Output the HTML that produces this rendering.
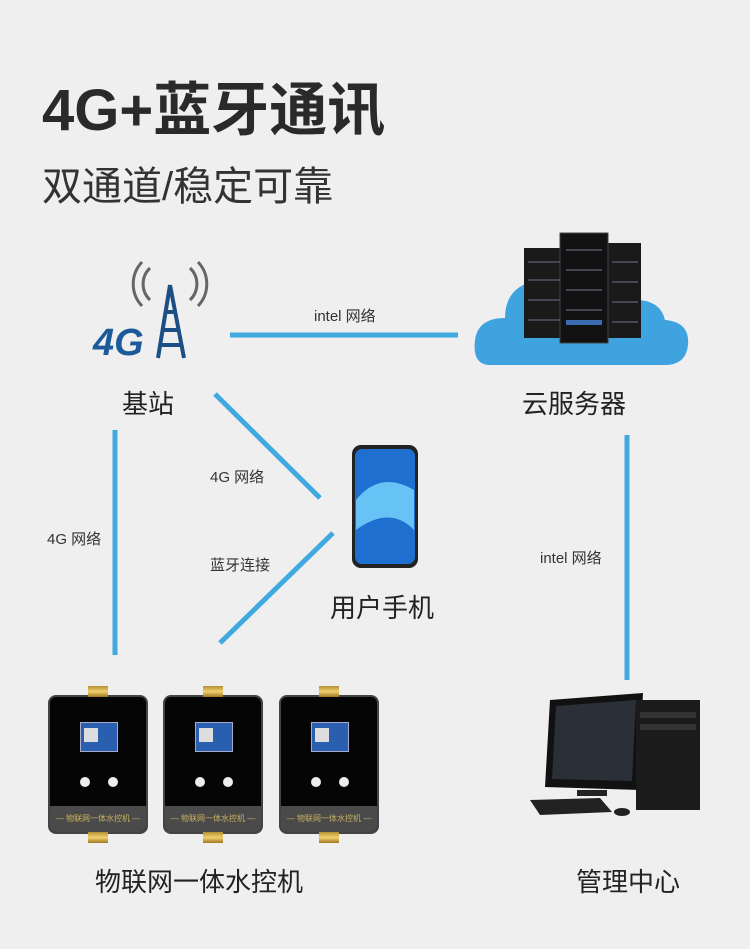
<!DOCTYPE html>
<html><head><meta charset="utf-8"><style>
body{margin:0;width:750px;height:949px;background:#efefef;position:relative;overflow:hidden;font-family:"Liberation Sans","Noto Sans CJK SC",sans-serif;color:#222}
.t{position:absolute;white-space:nowrap}
.s{font-size:15px;color:#333}
.l{font-size:26px;color:#222}
.dev{position:absolute;top:697px;width:96px;height:135px;background:#050505;border-radius:6px;box-shadow:0 0 0 2px #444}
.dev .sc{position:absolute;left:30px;top:25px;width:36px;height:28px;background:#2a5fb0;border:1px solid #aac}
.dev .qr{position:absolute;left:3px;top:5px;width:14px;height:14px;background:#ddd}
.dev .b{position:absolute;top:80px;width:10px;height:10px;border-radius:50%;background:#eee}
.dev .bar{position:absolute;left:0;right:0;bottom:0;height:26px;background:#4a4a4a;border-radius:0 0 6px 6px;color:#c9b060;font-size:8px;text-align:center;line-height:26px}
.dev .f{position:absolute;left:38px;width:20px;height:11px;background:linear-gradient(#b59030,#f0d070,#a07820)}
</style></head><body>
<div class="t" style="left:42px;top:76px;font-size:58px;line-height:70px;font-weight:bold;color:#2a2a2a">4G+蓝牙通讯</div>
<div class="t" style="left:42px;top:162px;font-size:40px;line-height:50px;color:#333">双通道/稳定可靠</div>

<svg width="750" height="949" style="position:absolute;left:0;top:0">
<g stroke="#3fa9e0" stroke-width="5">
<line x1="230" y1="335" x2="458" y2="335"/>
<line x1="215" y1="394" x2="320" y2="498"/>
<line x1="333" y1="533" x2="220" y2="643"/>
<line x1="115" y1="430" x2="115" y2="655"/>
<line x1="627" y1="435" x2="627" y2="680"/>
</g>
<g fill="none" stroke="#666" stroke-width="3">
<path d="M150 300 A22 22 0 0 1 150 268"/><path d="M142 306 A32 32 0 0 1 142 262"/>
<path d="M190 300 A22 22 0 0 0 190 268"/><path d="M198 306 A32 32 0 0 0 198 262"/>
</g>
<g stroke="#1d4f86" stroke-width="4" fill="none">
<path d="M170 285 L158 358 M170 285 L184 358 M162 330 L180 330 M165 312 L176 312 M160 345 L182 345"/>
</g>
<text x="93" y="355" font-size="38" font-weight="bold" font-style="italic" fill="#1d5a9c" font-family="Liberation Sans">4G</text>
<path d="M490 365 Q472 365 475 340 Q478 318 505 318 Q505 285 540 280 Q560 262 595 270 Q625 275 630 300 Q660 298 665 320 Q690 322 688 345 Q686 365 665 365 Z" fill="#3fa3e0"/>
<rect x="524" y="248" width="40" height="90" fill="#1a1a1a"/>
<rect x="608" y="243" width="33" height="95" fill="#1a1a1a"/>
<rect x="560" y="233" width="48" height="110" fill="#111" stroke="#444"/>
<g stroke="#556" stroke-width="1.5">
<line x1="528" y1="262" x2="560" y2="262"/><line x1="528" y1="280" x2="560" y2="280"/><line x1="528" y1="300" x2="560" y2="300"/><line x1="528" y1="320" x2="560" y2="320"/>
<line x1="566" y1="250" x2="602" y2="250"/><line x1="566" y1="270" x2="602" y2="270"/><line x1="566" y1="290" x2="602" y2="290"/><line x1="566" y1="310" x2="602" y2="310"/>
<line x1="612" y1="262" x2="638" y2="262"/><line x1="612" y1="282" x2="638" y2="282"/><line x1="612" y1="302" x2="638" y2="302"/><line x1="612" y1="322" x2="638" y2="322"/>
</g>
<rect x="566" y="320" width="36" height="5" fill="#3a6ab0"/>
<rect x="352" y="445" width="66" height="123" rx="9" fill="#222"/>
<rect x="355" y="449" width="60" height="115" rx="7" fill="#1f6fd0"/>
<path d="M356 500 Q380 470 414 490 L414 530 Q390 505 356 530Z" fill="#67c3f5"/>
<polygon points="550,700 643,693 638,790 545,787" fill="#111"/>
<polygon points="556,706 636,700 632,781 552,779" fill="#2b2f38"/>
<rect x="577" y="790" width="30" height="6" fill="#222"/>
<rect x="636" y="700" width="64" height="110" fill="#1b1b1b"/>
<rect x="640" y="712" width="56" height="6" fill="#333"/><rect x="640" y="724" width="56" height="6" fill="#333"/>
<polygon points="530,800 600,798 612,812 540,815" fill="#222"/>
<ellipse cx="622" cy="812" rx="8" ry="4" fill="#222"/>
</svg>

<div class="t s" style="left:314px;top:305px">intel 网络</div>
<div class="t s" style="left:210px;top:466px">4G 网络</div>
<div class="t s" style="left:210px;top:554px">蓝牙连接</div>
<div class="t s" style="left:47px;top:528px">4G 网络</div>
<div class="t s" style="left:540px;top:547px">intel 网络</div>

<div class="t l" style="left:122px;top:384px">基站</div>
<div class="t l" style="left:522px;top:384px">云服务器</div>
<div class="t l" style="left:330px;top:588px">用户手机</div>
<div class="t l" style="left:95px;top:862px">物联网一体水控机</div>
<div class="t l" style="left:576px;top:862px">管理中心</div>

<div class="dev" style="left:50px"><div class="f" style="top:-11px"></div><div class="sc"><div class="qr"></div></div><div class="b" style="left:30px"></div><div class="b" style="left:58px"></div><div class="bar">— 物联网一体水控机 —</div><div class="f" style="bottom:-11px"></div></div>
<div class="dev" style="left:165px"><div class="f" style="top:-11px"></div><div class="sc"><div class="qr"></div></div><div class="b" style="left:30px"></div><div class="b" style="left:58px"></div><div class="bar">— 物联网一体水控机 —</div><div class="f" style="bottom:-11px"></div></div>
<div class="dev" style="left:281px"><div class="f" style="top:-11px"></div><div class="sc"><div class="qr"></div></div><div class="b" style="left:30px"></div><div class="b" style="left:58px"></div><div class="bar">— 物联网一体水控机 —</div><div class="f" style="bottom:-11px"></div></div>
</body></html>
